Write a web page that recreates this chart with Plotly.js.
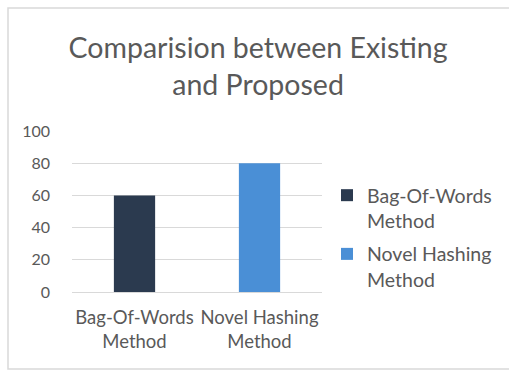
<!DOCTYPE html>
<html>
<head>
<meta charset="utf-8">
<script src="https://cdn.plot.ly/plotly-3.0.1.min.js"></script>
<style>html,body{margin:0;padding:0;background:#fff;}#chart{width:509px;height:371px;}</style>
</head>
<body>
<div id="chart"></div>
<script>
var categories = ["Bag-Of-Words<br>Method", "Novel Hashing<br>Method"];
var seriesNames = ["Bag-Of-Words<br>Method", "Novel Hashing<br>Method"];
var seriesValues = [60, 80];
var seriesColors = ["#2b3a4f", "#4a8fd6"];
var yTicks = [0, 20, 40, 60, 80, 100];

var font = "Lato, 'Open Sans', sans-serif";
var traces = seriesNames.map(function(name, i){
  return {
    type: 'bar',
    x: [categories[i]],
    y: [seriesValues[i]],
    name: name,
    legendgroup: 'g' + i,
    width: 0.33,
    marker: {color: seriesColors[i]},
    hoverinfo: 'none'
  };
});

var W = 509, H = 371;
var L = 72, R = 187, T = 131, B = 79;
var pw = W - L - R, ph = H - T - B;
function px(x){ return (x - L) / pw; }
function py(y){ return (H - B - y) / ph; }

var layout = {
  width: W, height: H,
  margin: {l: L, r: R, t: T, b: B, autoexpand: false},
  paper_bgcolor: '#fff', plot_bgcolor: '#fff',
  barmode: 'overlay',
  font: {family: font, color: '#595959'},
  title: {text: 'Comparision between Existing<br>and Proposed', font: {size: 28.5, color: '#595959', family: font}, x: 0.507, xanchor: 'center', y: 0.845, yanchor: 'middle'},
  xaxis: {categoryorder: 'array', categoryarray: categories, tickangle: 0, tickfont: {size: 18.5, color: '#595959'}, showline: false, showgrid: false, zeroline: false, ticks: '', ticklabelstandoff: 12, fixedrange: true},
  yaxis: {range: [0, 100], tickvals: yTicks, ticktext: yTicks.map(String), tickfont: {size: 16, color: '#595959'}, gridcolor: '#d9d9d9', gridwidth: 1, zeroline: true, zerolinecolor: '#d9d9d9', showline: false, ticks: '', ticklabelstandoff: 21, fixedrange: true},
  showlegend: true,
  legend: {xref: 'container', yref: 'container', x: 327 / W, y: 1 - 176 / H, xanchor: 'left', yanchor: 'top', valign: 'top', traceorder: 'grouped', tracegroupgap: 5, font: {size: 19.5, color: '#595959'}, itemwidth: 30, bgcolor: 'rgba(0,0,0,0)'},
  shapes: [{type: 'rect', xref: 'paper', yref: 'paper', x0: px(8), x1: px(514), y0: py(369), y1: py(8), line: {color: '#d9d9d9', width: 1.5}, fillcolor: 'rgba(0,0,0,0)', layer: 'below'}]
};
Plotly.newPlot('chart', traces, layout, {displayModeBar: false, staticPlot: true});
</script>
</body>
</html>
